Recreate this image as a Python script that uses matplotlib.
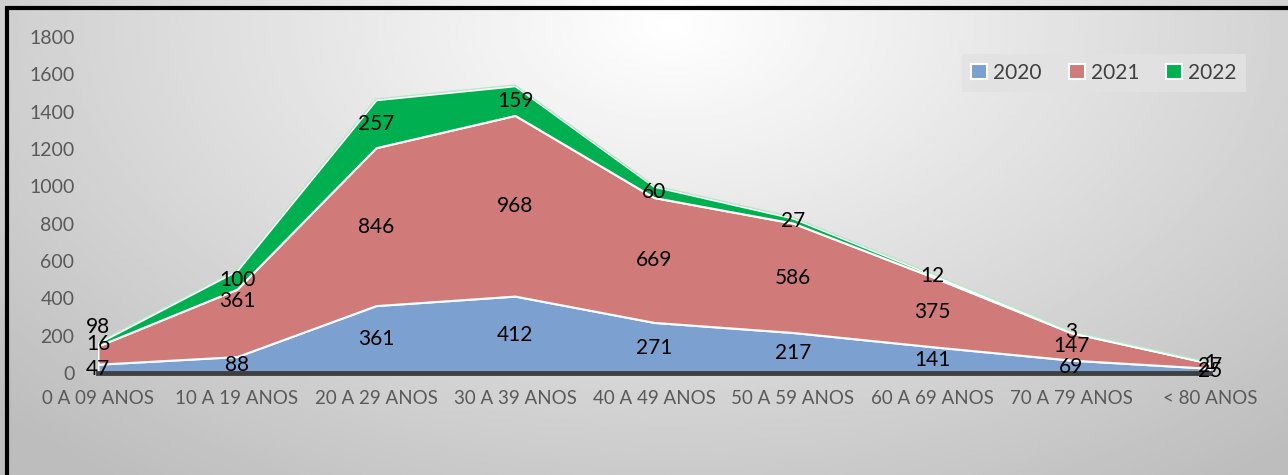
import matplotlib.pyplot as plt
from matplotlib.patches import Rectangle
import numpy as np

plt.rcParams['font.family'] = ['Lato', 'DejaVu Sans']

categories = ['0 A 09 ANOS', '10 A 19 ANOS', '20 A 29 ANOS', '30 A 39 ANOS', '40 A 49 ANOS',
              '50 A 59 ANOS', '60 A 69 ANOS', '70 A 79 ANOS', '< 80 ANOS']
years = ['2020', '2021', '2022']
v2020 = [47, 88, 361, 412, 271, 217, 141, 69, 25]
v2021 = [98, 361, 846, 968, 669, 586, 375, 147, 27]
v2022 = [16, 100, 257, 159, 60, 27, 12, 3, 1]
colors = ['#7ca1d0', '#d07b79', '#00b050']

W, H = 1288, 475
fig = plt.figure(figsize=(W / 100, H / 100), dpi=100)

# radial grey background, white near the top middle
bg = fig.add_axes([0, 0, 1, 1], zorder=-10)
gx, gy = np.meshgrid(np.linspace(0, 1, 400), np.linspace(0, 1, 200))
r = np.sqrt(((gx - 0.52) / 0.75) ** 2 + ((gy - 0.95) / 1.25) ** 2)
shade = np.clip(1.0 - 0.27 * r, 0.74, 1.0)
bg.imshow(shade, cmap='gray', vmin=0, vmax=1, extent=[0, 1, 0, 1],
          origin='lower', aspect='auto')
bg.add_patch(Rectangle((7 / W, -0.1), 1.2, 1 - 8 / H + 0.1, fill=False,
                       edgecolor='black', linewidth=3, transform=bg.transAxes))
bg.axis('off')

ax = fig.add_axes([98 / W, 102 / H, 1112 / W, 336 / H])
ax.patch.set_alpha(0)
x = np.arange(len(categories))
series = [v2020, v2021, v2022]
ax.stackplot(x, series, colors=colors, labels=years,
             edgecolor='white', linewidth=1.5)
top = np.sum(series, axis=0)
ax.plot(x, top + 4, color='#b8e6c8', linewidth=1)

# data labels in the middle of each band, two of them dragged up like the original
nudge = {(1, 0): 150, (1, 1): 115}
base = np.zeros(len(x))
for s, vals in enumerate(series):
    vals = np.array(vals)
    mid = base + vals / 2
    for i, v in enumerate(vals):
        ax.text(x[i], mid[i] + nudge.get((s, i), 0), str(v), ha='center', va='center',
                fontsize=15, color='black')
    base = base + vals

ax.set_xlim(0, len(categories) - 1)
ax.set_ylim(0, 1800)
ax.set_yticks(range(0, 1801, 200))
ax.set_xticks(x)
ax.set_xticklabels(categories)
ax.tick_params(axis='both', length=0, labelsize=14, colors='#595959')
ax.tick_params(axis='x', labelsize=13.5)
ax.tick_params(axis='y', pad=17)
ax.tick_params(axis='x', pad=12)
for side in ['top', 'right', 'left']:
    ax.spines[side].set_visible(False)
ax.spines['bottom'].set_color('#404040')
ax.spines['bottom'].set_linewidth(3.5)

leg = ax.legend(loc='upper right', bbox_to_anchor=(1.04, 0.975), ncol=3, frameon=True,
                fontsize=15, handlelength=0.75, handleheight=0.75, handletextpad=0.3,
                columnspacing=1.3, borderpad=0.35)
leg.get_frame().set_facecolor('#e2e2e2')
leg.get_frame().set_edgecolor('none')
leg.get_frame().set_alpha(0.85)
leg.get_frame().set_boxstyle('square', pad=0.1)
for t in leg.get_texts():
    t.set_color('#404040')

fig.savefig('out.png', dpi=100)
